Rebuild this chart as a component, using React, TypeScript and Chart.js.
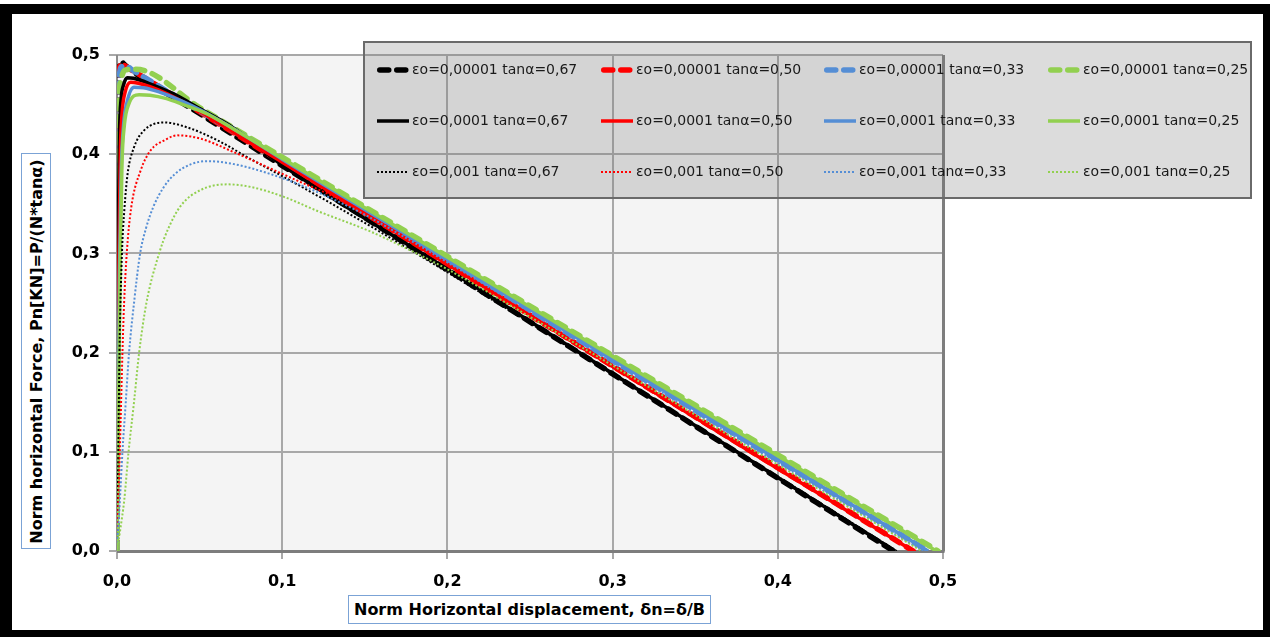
import React, { useEffect, useRef } from "react";
import { Chart, registerables } from "chart.js";

Chart.register(...registerables);

// ---------- data ----------
const X_MIN = 0;
const X_MAX = 0.5;
const Y_MIN = 0;
const Y_MAX = 0.5;
const STEP = 0.1;

const LABELS = [
  "εo=0,00001 tanα=0,67",
  "εo=0,00001 tanα=0,50",
  "εo=0,00001 tanα=0,33",
  "εo=0,00001 tanα=0,25",
  "εo=0,0001 tanα=0,67",
  "εo=0,0001 tanα=0,50",
  "εo=0,0001 tanα=0,33",
  "εo=0,0001 tanα=0,25",
  "εo=0,001 tanα=0,67",
  "εo=0,001 tanα=0,50",
  "εo=0,001 tanα=0,33",
  "εo=0,001 tanα=0,25",
];

const COLORS = ["#000000", "#ff0000", "#558ed5", "#92d050"];

// εo = 0,00001 (thick dashed)
const A67: [number, number][] = [
  [0, 0], [0.0002, 0.3], [0.0006, 0.44], [0.0012, 0.48], [0.0023, 0.4935], [0.005, 0.4895],
  [0.01, 0.483], [0.05, 0.441], [0.1, 0.3885], [0.2, 0.2835], [0.3, 0.1785], [0.4, 0.0735], [0.47, 0],
];
const A50: [number, number][] = [
  [0, 0], [0.0002, 0.28], [0.0006, 0.43], [0.0012, 0.475], [0.0025, 0.492], [0.005, 0.4888],
  [0.01, 0.4838], [0.05, 0.4428], [0.1, 0.3915], [0.2, 0.289], [0.3, 0.1865], [0.4, 0.084], [0.482, 0],
];
const A33: [number, number][] = [
  [0, 0], [0.0002, 0.26], [0.0006, 0.42], [0.0012, 0.47], [0.0025, 0.488], [0.005, 0.489],
  [0.01, 0.484], [0.05, 0.4437], [0.1, 0.3934], [0.2, 0.2928], [0.3, 0.1922], [0.4, 0.0916], [0.491, 0],
];
const A25: [number, number][] = [
  [0, 0], [0.0002, 0.25], [0.0006, 0.4], [0.0012, 0.455], [0.0025, 0.475], [0.005, 0.485],
  [0.0114, 0.4856], [0.05, 0.447], [0.1, 0.397], [0.2, 0.297], [0.3, 0.197], [0.4, 0.097], [0.497, 0],
];

// εo = 0,0001 (solid)
const B67: [number, number][] = [
  [0, 0], [0.0005, 0.2], [0.001, 0.35], [0.0015, 0.42], [0.0025, 0.456], [0.004, 0.47], [0.0063, 0.477],
  [0.01, 0.4765], [0.02, 0.471], [0.034, 0.461], [0.05, 0.446], [0.07, 0.427], [0.1, 0.389],
  [0.2, 0.284], [0.3, 0.179], [0.4, 0.074], [0.471, 0],
];
const B50: [number, number][] = [
  [0, 0], [0.0006, 0.15], [0.0012, 0.3], [0.002, 0.4], [0.003, 0.44], [0.005, 0.463], [0.0083, 0.4726],
  [0.013, 0.4715], [0.02, 0.468], [0.03, 0.461], [0.045, 0.448], [0.06, 0.433], [0.08, 0.412],
  [0.1, 0.392], [0.2, 0.289], [0.3, 0.186], [0.4, 0.083], [0.482, 0],
];
const B33: [number, number][] = [
  [0, 0], [0.0008, 0.15], [0.0015, 0.28], [0.0025, 0.38], [0.004, 0.43], [0.006, 0.452], [0.0103, 0.4676],
  [0.016, 0.467], [0.025, 0.463], [0.04, 0.453], [0.06, 0.436], [0.08, 0.416], [0.1, 0.395],
  [0.2, 0.294], [0.3, 0.193], [0.4, 0.092], [0.491, 0],
];
const B25: [number, number][] = [
  [0, 0], [0.001, 0.15], [0.002, 0.3], [0.003, 0.39], [0.0045, 0.43], [0.007, 0.45], [0.0134, 0.46],
  [0.02, 0.4595], [0.03, 0.456], [0.04, 0.45], [0.054, 0.441], [0.07, 0.426], [0.1, 0.396],
  [0.2, 0.296], [0.3, 0.196], [0.4, 0.096], [0.496, 0],
];

// εo = 0,001 (dotted)
const C67: [number, number][] = [
  [0, 0], [0.0008, 0.1], [0.0015, 0.2], [0.003, 0.3], [0.0045, 0.345], [0.0064, 0.38],
  [0.0103, 0.407], [0.0164, 0.424], [0.0285, 0.432], [0.0426, 0.427], [0.0608, 0.414],
  [0.081, 0.395], [0.101, 0.377], [0.13, 0.35], [0.16, 0.321], [0.2, 0.281], [0.3, 0.178],
  [0.4, 0.075], [0.472, 0],
];
const C50: [number, number][] = [
  [0, 0], [0.0017, 0.1], [0.0033, 0.2], [0.0043, 0.25], [0.0059, 0.3], [0.0085, 0.345],
  [0.0144, 0.384], [0.0204, 0.404], [0.0286, 0.414], [0.0366, 0.419], [0.0507, 0.4156],
  [0.0708, 0.402], [0.091, 0.387], [0.111, 0.372], [0.129, 0.359], [0.16, 0.33], [0.2, 0.289],
  [0.3, 0.185], [0.4, 0.083], [0.482, 0],
];
const C33: [number, number][] = [
  [0, 0], [0.0017, 0.05], [0.0033, 0.1], [0.0053, 0.15], [0.0073, 0.2], [0.0103, 0.25],
  [0.014, 0.3], [0.0175, 0.325], [0.022, 0.347], [0.028, 0.366], [0.035, 0.38], [0.045, 0.39],
  [0.0547, 0.393], [0.0708, 0.39], [0.091, 0.381], [0.111, 0.369], [0.129, 0.356], [0.15, 0.339],
  [0.2, 0.291], [0.3, 0.19], [0.4, 0.089], [0.488, 0],
];
const C25: [number, number][] = [
  [0, 0], [0.002, 0.022], [0.0043, 0.05], [0.007, 0.1], [0.0103, 0.15], [0.0134, 0.2],
  [0.0178, 0.25], [0.0255, 0.3], [0.0305, 0.323], [0.0386, 0.348], [0.0507, 0.364],
  [0.0668, 0.3696], [0.081, 0.367], [0.101, 0.357], [0.121, 0.343], [0.1535, 0.322],
  [0.174, 0.306], [0.2, 0.284], [0.25, 0.236], [0.3, 0.187], [0.4, 0.087], [0.487, 0],
];

const SERIES = [A67, A50, A33, A25, B67, B50, B33, B25, C67, C50, C33, C25];

// ---------- styles ----------
const STYLE_DASHED = { borderWidth: 5.5, borderDash: [9, 8], borderCapStyle: "round" as const };
const STYLE_SOLID = { borderWidth: 3.5, borderDash: [] as number[], borderCapStyle: "butt" as const };
const STYLE_DOTTED = { borderWidth: 2, borderDash: [2, 2], borderCapStyle: "butt" as const };
const GROUP_STYLES = [STYLE_DASHED, STYLE_SOLID, STYLE_DOTTED];

const FONT = "'DejaVu Sans', Verdana, sans-serif";

const fmt = (v: number) => Number(v).toFixed(1).replace(".", ",");

const plotBgPlugin = {
  id: "plotBg",
  beforeDraw(chart: any) {
    const { ctx, chartArea: a } = chart;
    ctx.save();
    ctx.fillStyle = "#f4f4f4";
    ctx.fillRect(a.left, a.top, a.right - a.left, a.bottom - a.top);
    ctx.restore();
  },
  beforeDatasetsDraw(chart: any) {
    const { ctx, chartArea: a } = chart;
    ctx.save();
    ctx.strokeStyle = "#8c8c8c";
    ctx.lineWidth = 2;
    ctx.beginPath();
    ctx.moveTo(a.left, a.top);
    ctx.lineTo(a.left, a.bottom);
    ctx.stroke();
    ctx.strokeStyle = "#7d7d7d";
    ctx.lineWidth = 3;
    ctx.beginPath();
    ctx.moveTo(a.left, a.bottom + 0.5);
    ctx.lineTo(a.right + 1.5, a.bottom + 0.5);
    ctx.moveTo(a.right + 0.5, a.top);
    ctx.lineTo(a.right + 0.5, a.bottom + 0.5);
    ctx.stroke();
    ctx.restore();
  },
};

const LEGEND_BOX = { left: 364, top: 42, right: 1251, bottom: 198 };
const LEGEND_COLS = [377, 601, 824, 1048];
const LEGEND_ROWS = [70, 121, 172];

const legendPlugin = {
  id: "boxLegend",
  afterDraw(chart: any) {
    const { ctx } = chart;
    const b = LEGEND_BOX;
    ctx.save();
    ctx.fillStyle = "rgba(120,120,120,0.26)";
    ctx.fillRect(b.left, b.top, b.right - b.left, b.bottom - b.top);
    ctx.strokeStyle = "#6a6a6a";
    ctx.lineWidth = 2;
    ctx.strokeRect(b.left, b.top, b.right - b.left, b.bottom - b.top);
    chart.data.datasets.forEach((ds: any, i: number) => {
      const col = i % 4;
      const row = Math.floor(i / 4);
      const x0 = LEGEND_COLS[col];
      const y = LEGEND_ROWS[row];
      ctx.save();
      ctx.strokeStyle = ds.borderColor;
      ctx.lineWidth = ds.borderWidth;
      ctx.lineCap = ds.borderCapStyle;
      ctx.setLineDash(ds.borderDash || []);
      const cap = ds.borderCapStyle === "round" ? ds.borderWidth / 2 : 0;
      ctx.beginPath();
      ctx.moveTo(x0 + cap, y);
      ctx.lineTo(x0 + 32 - cap, y);
      ctx.stroke();
      ctx.restore();
      ctx.fillStyle = "#1a1a1a";
      ctx.font = `14px ${FONT}`;
      ctx.textAlign = "left";
      ctx.textBaseline = "middle";
      ctx.fillText(ds.label, x0 + 35, y);
    });
    ctx.restore();
  },
};

export default function App() {
  const ref = useRef<HTMLCanvasElement | null>(null);

  useEffect(() => {
    document.body.style.margin = "0";
    const canvas = ref.current!;
    const datasets = SERIES.map((pts, i) => {
      const st = GROUP_STYLES[Math.floor(i / 4)];
      return {
        label: LABELS[i],
        data: pts.map(([x, y]) => ({ x, y })),
        borderColor: COLORS[i % 4],
        backgroundColor: COLORS[i % 4],
        borderWidth: st.borderWidth,
        borderDash: st.borderDash,
        borderCapStyle: st.borderCapStyle,
        borderJoinStyle: "round" as const,
        pointRadius: 0,
        fill: false,
        cubicInterpolationMode: "monotone" as const,
        order: SERIES.length - i,
      };
    });

    const chart = new Chart(canvas, {
      type: "line",
      data: { datasets },
      options: {
        responsive: false,
        animation: false,
        events: [],
        layout: { padding: { left: 0, top: 55, right: 327, bottom: 0 } },
        plugins: { legend: { display: false }, tooltip: { enabled: false } },
        scales: {
          x: {
            type: "linear",
            min: X_MIN,
            max: X_MAX,
            afterFit: (s: any) => {
              s.height = 86;
            },
            ticks: {
              stepSize: STEP,
              callback: (v: any) => fmt(v),
              color: "#000",
              font: { family: FONT, size: 16, weight: "bold" },
              padding: 13,
              maxRotation: 0,
            },
            grid: { color: "#a8a8a8", lineWidth: 2, tickLength: 8, tickColor: "#a8a8a8", drawTicks: true },
            border: { display: false },
          },
          y: {
            type: "linear",
            min: Y_MIN,
            max: Y_MAX,
            afterFit: (s: any) => {
              s.width = 117;
            },
            ticks: {
              stepSize: STEP,
              callback: (v: any) => fmt(v),
              color: "#000",
              font: { family: FONT, size: 16, weight: "bold" },
              padding: 9,
            },
            grid: { color: "#a8a8a8", lineWidth: 2, tickLength: 8, tickColor: "#a8a8a8", drawTicks: true },
            border: { display: false },
          },
        },
      },
      plugins: [plotBgPlugin, legendPlugin],
    });
    return () => chart.destroy();
  }, []);

  const titleFont: React.CSSProperties = {
    fontFamily: FONT,
    fontWeight: "bold",
    fontSize: 16,
    color: "#000",
    whiteSpace: "nowrap",
  };

  return (
    <div style={{ position: "fixed", left: 0, top: 0, width: 1270, height: 637, background: "#fff", overflow: "hidden" }}>
      <canvas ref={ref} width={1270} height={637} style={{ position: "absolute", left: 0, top: 0 }} />
      <div
        style={{
          position: "absolute",
          left: 21,
          top: 153,
          width: 30,
          height: 396,
          boxSizing: "border-box",
          border: "1px solid #7ba3d6",
          background: "#fff",
          display: "flex",
          alignItems: "center",
          justifyContent: "center",
        }}
      >
        <div style={{ ...titleFont, transform: "rotate(-90deg)" }}>Norm horizontal Force, Pn[KN]=P/(N*tanα)</div>
      </div>
      <div
        style={{
          position: "absolute",
          left: 348,
          top: 595,
          width: 363,
          height: 29,
          boxSizing: "border-box",
          border: "1px solid #7ba3d6",
          background: "#fff",
          display: "flex",
          alignItems: "center",
          justifyContent: "center",
        }}
      >
        <div style={titleFont}>Norm Horizontal displacement, δn=δ/B</div>
      </div>
      <div
        style={{
          position: "absolute",
          left: 0,
          top: 4,
          width: 1270,
          height: 633,
          boxSizing: "border-box",
          borderLeft: "12px solid #000",
          borderTop: "10px solid #000",
          borderRight: "7px solid #000",
          borderBottom: "7px solid #000",
          pointerEvents: "none",
        }}
      />
    </div>
  );
}
